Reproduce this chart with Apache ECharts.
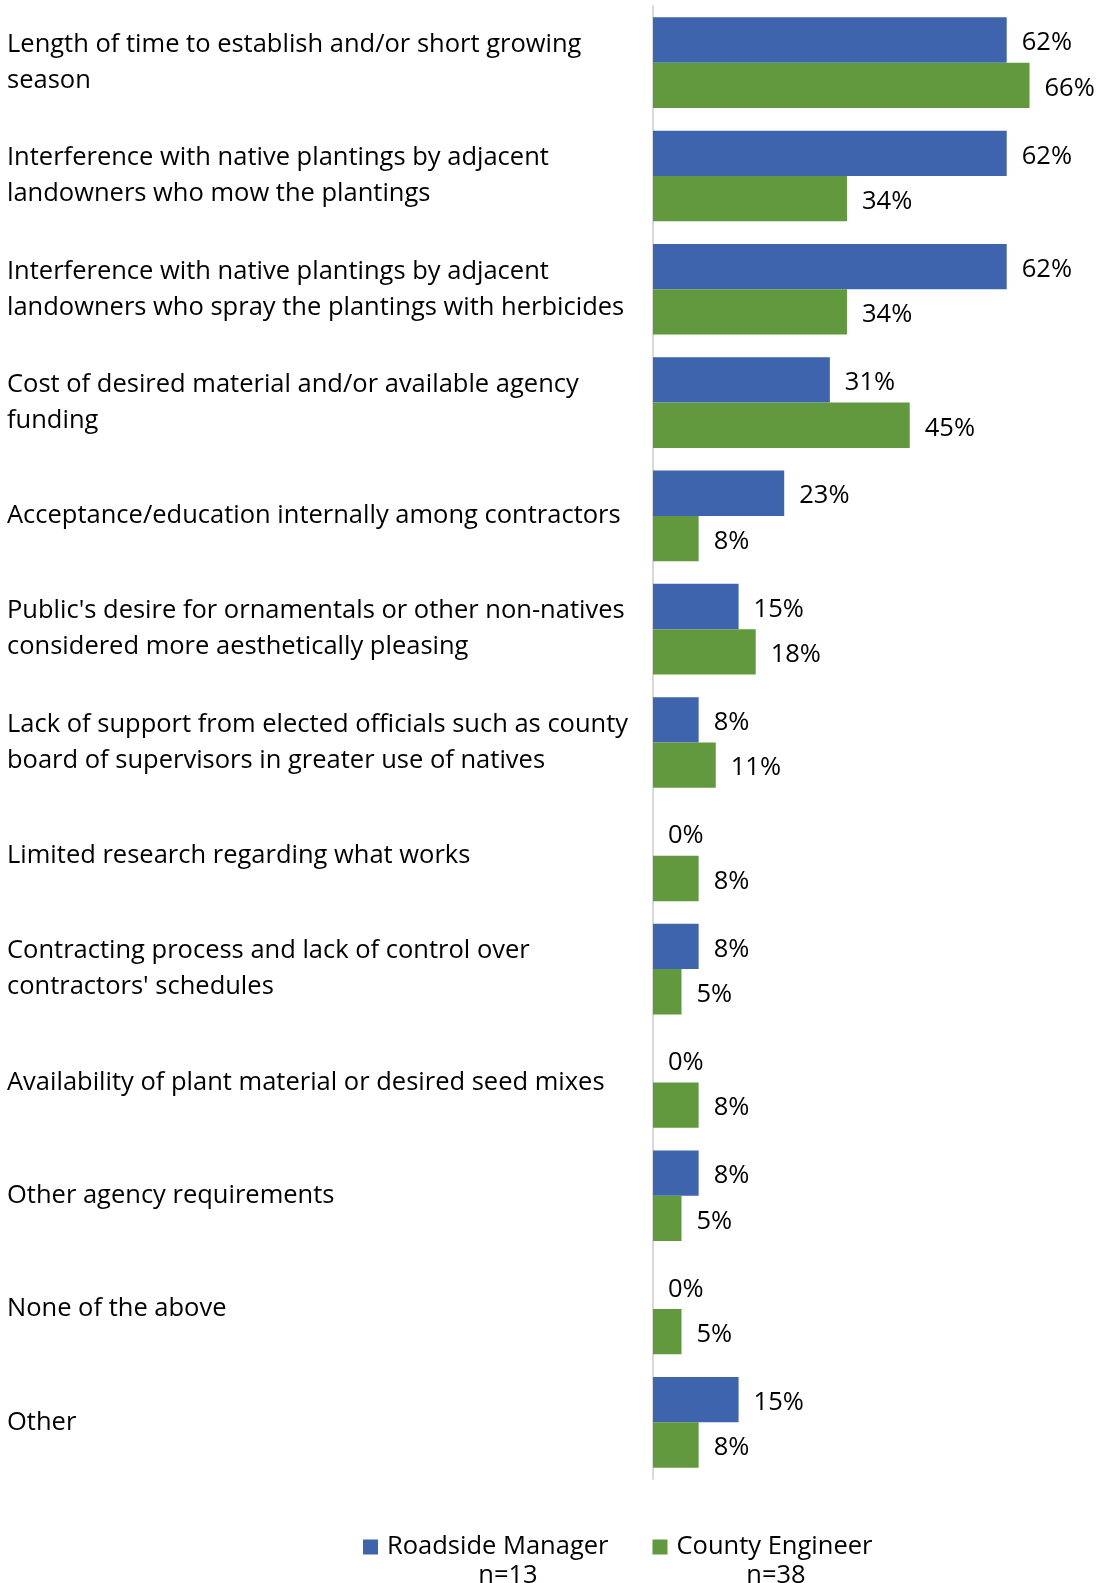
<!DOCTYPE html>
<html>
<head>
<meta charset="utf-8">
<script src="https://cdn.jsdelivr.net/npm/echarts@6/dist/echarts.min.js"></script>
<style>
  html, body { margin: 0; padding: 0; background: #ffffff; }
  #chart { width: 1100px; height: 1583px; }
</style>
</head>
<body>
<div id="chart"></div>
<script>
// Barriers to using native plantings, by respondent group
const categories = [
  'Length of time to establish and/or short growing\nseason',
  'Interference with native plantings by adjacent\nlandowners who mow the plantings',
  'Interference with native plantings by adjacent\nlandowners who spray the plantings with herbicides',
  'Cost of desired material and/or available agency\nfunding',
  'Acceptance/education internally among contractors',
  "Public's desire for ornamentals or other non-natives\nconsidered more aesthetically pleasing",
  'Lack of support from elected officials such as county\nboard of supervisors in greater use of natives',
  'Limited research regarding what works',
  "Contracting process and lack of control over\ncontractors' schedules",
  'Availability of plant material or desired seed mixes',
  'Other agency requirements',
  'None of the above',
  'Other'
];
const roadsideManager = [62, 62, 62, 31, 23, 15, 8, 0, 8, 0, 8, 0, 15];
const countyEngineer  = [66, 34, 34, 45, 8, 18, 11, 8, 5, 8, 5, 5, 8];
const seriesNames = ['Roadside Manager', 'County Engineer'];
const sampleSizes = ['n=13', 'n=38'];

const FONT = '"Open Sans", Lato, sans-serif';
const FONT_SIZE = 25.5;
const BLUE = '#3D64AD';
const GREEN = '#62993E';

const chart = echarts.init(document.getElementById('chart'));

const valueLabel = {
  show: true,
  position: 'right',
  distance: 15,
  offset: [0, 3],
  formatter: '{c}%',
  fontFamily: FONT,
  fontSize: FONT_SIZE,
  color: '#000000'
};

chart.setOption({
  animation: false,
  backgroundColor: '#ffffff',
  grid: { left: 653, right: 2, top: 6, height: 1473 },
  xAxis: {
    type: 'value', min: 0, max: 78, show: false
  },
  yAxis: {
    type: 'category',
    inverse: true,
    data: categories,
    axisTick: { show: false },
    axisLine: { show: true, lineStyle: { color: '#D9D9D9', width: 2 } },
    axisLabel: {
      align: 'left',
      margin: 646,
      fontFamily: FONT,
      fontSize: FONT_SIZE,
      lineHeight: 36,
      padding: [10, 0, 0, 0],
      color: '#000000'
    }
  },
  legend: {
    left: 363,
    top: 1534,
    padding: 0,
    itemWidth: 15,
    itemHeight: 15,
    itemGap: 44,
    icon: 'rect',
    textStyle: { fontFamily: FONT, fontSize: FONT_SIZE, color: '#000000', padding: [0, 0, 0, 4] },
    data: seriesNames
  },
  graphic: [
    { type: 'text', x: 508, y: 1576,
      style: { text: sampleSizes[0], font: FONT_SIZE + 'px ' + FONT, fill: '#000000',
               align: 'center', verticalAlign: 'middle' } },
    { type: 'text', x: 776, y: 1576,
      style: { text: sampleSizes[1], font: FONT_SIZE + 'px ' + FONT, fill: '#000000',
               align: 'center', verticalAlign: 'middle' } }
  ],
  series: [
    {
      name: seriesNames[0], type: 'bar', data: roadsideManager,
      itemStyle: { color: BLUE },
      barCategoryGap: '20%', barGap: '0%',
      label: valueLabel
    },
    {
      name: seriesNames[1], type: 'bar', data: countyEngineer,
      itemStyle: { color: GREEN },
      barCategoryGap: '20%', barGap: '0%',
      label: valueLabel
    }
  ]
});
</script>
</body>
</html>
